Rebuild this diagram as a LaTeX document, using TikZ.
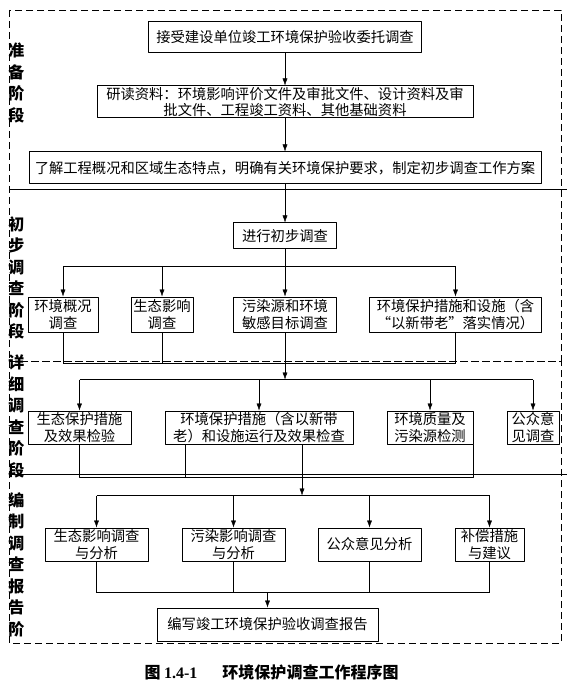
\documentclass[tikz,border=0pt]{standalone}
\usepackage{fontspec}
\setmainfont{Noto Sans CJK SC}
\newfontfamily\numfont{Liberation Serif}
\usetikzlibrary{arrows.meta}
\begin{document}
\begin{tikzpicture}[x=1pt,y=-1pt,line join=round,>={Latex[length=7pt,width=5pt]},
  font=\fontsize{14.3}{16.5}\selectfont,
  box/.style={draw,line width=1pt,inner sep=0pt,align=center},
  stage/.style={font=\fontsize{16}{21.5}\selectfont\bfseries,align=center,inner sep=0pt},
  frame/.style={line width=0.8pt,dash pattern=on 7pt off 4pt}]
\useasboundingbox (0,0) rectangle (568,684);
\draw[frame] (9,10) rectangle (561,361) (9,361) rectangle (561,643);
\draw[line width=0.8pt] (9,189) -- (567,189) (9,474) -- (567,474);
\node[stage] (s1) at (16.5,83) {准\\备\\阶\\段};
\node[stage] (s2) at (16.5,278) {初\\步\\调\\查\\阶\\段};
\node[stage] (s3) at (16.5,416.5) {详\\细\\调\\查\\阶\\段};
\node[stage] (s4) at (16.5,564.5) {编\\制\\调\\查\\报\\告\\阶};
\node[box,minimum width=273,minimum height=31] (a1) at (285,37.5) {接受建设单位竣工环境保护验收委托调查};
\node[box,minimum width=376,minimum height=32] (a2) at (285,102) {研读资料：环境影响评价文件及审批文件、设计资料及审\\批文件、工程竣工资料、其他基础资料};
\node[box,minimum width=512,minimum height=32] (a3) at (285,168) {了解工程概况和区域生态特点，明确有关环境保护要求，制定初步调查工作方案};
\node[box,minimum width=103,minimum height=26] (b0) at (285,236) {进行初步调查};
\node[box,minimum width=70,minimum height=35] (b1) at (63,314.5) {环境概况\\调查};
\node[box,minimum width=62,minimum height=35] (b2) at (162,314.5) {生态影响\\调查};
\node[box,minimum width=103,minimum height=35] (b3) at (285,314.5) {污染源和环境\\敏感目标调查};
\node[box,minimum width=172,minimum height=35] (b4) at (455.5,314.5) {环境保护措施和设施（含\\“以新带老”落实情况）};
\node[box,minimum width=103,minimum height=33] (c1) at (79.5,427.5) {生态保护措施\\及效果检验};
\node[box,minimum width=188,minimum height=33] (c2) at (259,427.5) {环境保护措施（含以新带\\老）和设施运行及效果检查};
\node[box,minimum width=86,minimum height=33] (c3) at (430,427.5) {环境质量及\\污染源检测};
\node[box,minimum width=52,minimum height=33] (c4) at (533,427.5) {公众意\\见调查};
\node[box,minimum width=103,minimum height=33] (d1) at (96.5,544.5) {生态影响调查\\与分析};
\node[box,minimum width=103,minimum height=33] (d2) at (233.5,544.5) {污染影响调查\\与分析};
\node[box,minimum width=103,minimum height=33] (d3) at (369.5,544.5) {公众意见分析};
\node[box,minimum width=69,minimum height=33] (d4) at (489.5,544.5) {补偿措施\\与建议};
\node[box,minimum width=221,minimum height=33] (e) at (267.5,624.5) {编写竣工环境保护验收调查报告};
\node[font=\fontsize{16}{18}\selectfont\bfseries] (cap) at (271.5,672) {图 {\numfont 1.4-1}\hspace{25pt}环境保护调查工作程序图};
\path
(b0.south) ++(0,17) coordinate (sb)
(b3.south) ++(0,31) coordinate (gb)
(gb) ++(0,16) coordinate (sc)
(c1.south) ++(0,33) coordinate (gc)
([xshift=20.5pt]c2.south west) coordinate (cl)
([xshift=43pt]c2.south) coordinate (cr)
(cr) ++(0,51) coordinate (sd)
(d1.south) ++(0,31) coordinate (gd)
;
\draw[->] (a1) -- (a2);
\draw[->] (a2) -- (a3);
\draw[->] (a3) -- (b0);
\draw (b0.south) -- (sb) (sb -| b1) -- (sb -| b4);
\foreach \n in {b1,b2,b3,b4} \draw[->] (sb -| \n) -- (\n.north);
\foreach \n in {b1,b2,b3,b4} \draw (\n.south) -- (gb -| \n);
\draw (gb -| b1) -- (gb -| b4);
\draw[->] (gb) -- (sc);
\draw (sc -| c1) -- (sc -| c4);
\foreach \n in {c1,c2,c3,c4} \draw[->] (sc -| \n) -- (\n.north);
\draw (c1.south) -- (gc) -- (gc -| c3.east) -- (c3.south east);
\draw (cl) -- (gc -| cl);
\draw[->] (cr) -- (sd);
\draw (sd -| d1) -- (sd -| d4);
\foreach \n in {d1,d2,d3,d4} \draw[->] (sd -| \n) -- (\n.north);
\foreach \n in {d1,d2,d3,d4} \draw (\n.south) -- (gd -| \n);
\draw (gd -| d1) -- (gd -| d4);
\draw[->] (gd -| e) -- (e.north);
\end{tikzpicture}
\end{document}
